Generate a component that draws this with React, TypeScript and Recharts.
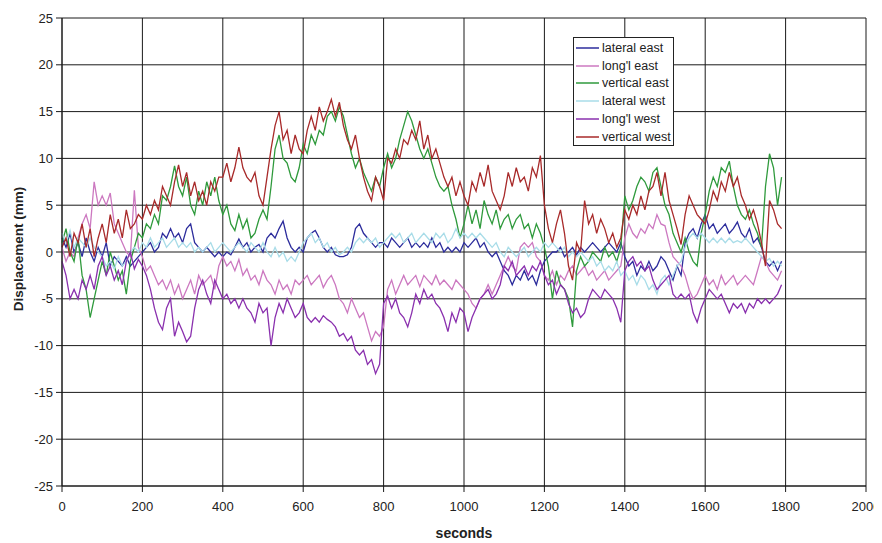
import { CartesianGrid, Legend, Line, LineChart, XAxis, YAxis } from 'recharts';

// sampled every 10 s, 0..1790
const lateralEast = [
  1.5, 0.5, 2, 0, 1, -0.5, 1.5, 0, -1, 0.5,
  -0.5, 1, -1.5, -0.5, -1, -1.5, -0.5, -1.5, -1, -0.5,
  0, 0.5, 1, 0, 0.5, 2, 1.5, 2.5, 1.5, 2,
  1, 2.5, 3, 1, 0.5, 0, 0.5, 0, -0.5, 0,
  -0.5, 0, -0.3, 0.5, 1.4, 0.5, 1, 0, 0.5, 0.8,
  0, 1.5, 2, 1.5, 2.5, 3.3, 1.5, 0.5, 0, 0.5,
  0, 1.5, 2, 2.3, 1.5, 0.5, 0, 0.5, -0.3, -0.5,
  -0.5, -0.3, 0.5, 2.5, 3, 2, 1.5, 1, 0.5, 1,
  1, 0.5, 1.5, 1, 0.5, 1, 1.5, 0.5, 1, 0.5,
  1, 0.5, 1.5, 0.5, 1, 0, 0.5, 0, 0.5, 0,
  1, 0.5, 1, 1.5, 0.5, 1, 0, -0.5, 0, -1,
  -2, -2.5, -3.5, -2.5, -3, -2, -3, -2.5, -3.5, -2,
  -1, -0.5, 0, 0, 0.5, -0.5, 0, 0.5, -0.3, 0.5,
  0, 0.5, 1, 0.5, 0, 0.5, 1, 0.5, 0, 1,
  -0.5, -1.5, -1, -2.5, -1.5, -2, -1, -2, -1.5, -0.5,
  -1, -2, -3, -1.5, -2.5, 1, 2, 2.5, 1.5, 3,
  4, 2.5, 3, 2, 2.5, 3, 2, 2.5, 3.2, 2,
  1.5, 2.5, 1, 1.5, 0.5, -1, -1.5, -1, -2, -1,
];

const longEast = [
  0.5, -1, 0, -0.5, 1.5, 3, 4, 2.5, 7.5, 5,
  6, 5, 6.3, 3, 2, 1, 0, -0.5, 6.6, 0.5,
  -0.5, -2, -1.5, -2.5, -3.5, -3, -4, -3, -4.5, -3.5,
  -5, -4, -3, -4.5, -2.5, -3.5, -3, -2.5, -4, -1.5,
  -0.5, -1.5, -1, -2, -0.8, -2.5, -1.8, -3, -2.5, -3.5,
  -2, -3, -3.5, -4.5, -3, -4, -3.5, -4.5, -3, -3.5,
  -3, -2.5, -3.5, -3, -2.5, -3.8, -3, -2.5, -3.5, -5,
  -5.5, -6.5, -5, -6, -7, -6.5, -8, -9.5, -8.5, -9,
  -8, -4, -3, -4.5, -3.5, -2.5, -3.5, -3, -2.5, -3.7,
  -2.5, -3, -3.5, -2.5, -3.5, -3, -3.5, -4, -3, -3.5,
  -4, -4.5, -5.5, -6, -5, -4.5, -3.5, -4.5, -3.5, -2.5,
  -1.5, -0.5, -1.5, -2, 0.5, 1, 0.5, 1, -0.5, -1,
  -2.5, -3, -2, -3.5, -2.5, -3, -2, -1.5, -2.5, -2,
  -1.5, -2.5, -2, -3, -2.5, -2, -3, -2.5, -2, -1.5,
  1.5, 3, 2, 1.5, 2.5, 2, 3, 2.5, 4, 3,
  2.8, 1, -0.5, -1, -1.5, -2.5, -4, -5, -4.5, -3.5,
  -2.5, -3.5, -3, -4, -2.5, -3.5, -3, -2.5, -3.5, -3,
  -2.5, -3, -3.5, -2, -0.5, -1, -2, -2.5, -3, -2,
];

const verticalEast = [
  1, 2.5, 0, -1, 1.5, -2.5, -4, -7, -5, -3,
  -1, -2.5, 0, -1.5, -3, -2, -4.5, -1, 0.5, 2,
  1.5, 3, 2.5, 4, 3, 6, 5.5, 7, 9.2, 7,
  6, 8, 5, 4, 6.5, 5, 7.5, 6, 8, 5.5,
  4, 5, 3, 2.3, 4, 2.5, 3.5, 1.5, 2, 3.5,
  4.5, 3.5, 7, 11, 12.5, 10, 9.5, 8, 7.5, 9,
  11.5, 10.5, 12.5, 11.5, 13, 12.5, 14.5, 15, 14, 15.5,
  14.5, 12.5, 10.5, 9, 10, 8.5, 7.5, 6.5, 8, 7,
  9, 10.5, 9, 10, 12, 13.5, 15, 14, 12.5, 11,
  10, 11, 9.5, 8, 7, 6.5, 7, 5, 3.5, 1.5,
  3, 5, 3, 4.5, 2.5, 5.5, 4, 3, 4.5, 2.5,
  3.5, 4, 2.5, 3.5, 4, 2.5, 3, 1.5, 3, 2,
  0.5, -1.5, -5, -2, -3.5, -4, -5, -8, -2, -0.5,
  -1.5, -1, 0, -0.5, -1, 0.5, -0.5, 0, -1, 0.5,
  6, 4.5, 5.5, 7, 8, 7.5, 6.5, 8.5, 9, 7,
  5, 4, 2, 1, 0, 1.5, 0, -1, -1.5, 2,
  4, 6.5, 8, 7, 9, 8.5, 9.7, 7, 5, 4,
  3.5, 4.5, 3, 2, 0.5, 7, 10.5, 9, 5, 8,
];

const lateralWest = [
  2, 1, 2.3, 0.5, 1.5, 1, 0.5, 1.5, 0.5, 0,
  -0.5, -1.5, -1, -1.8, -0.5, -1.5, -1, 0, 0.5, 0,
  1, 0.5, 1.5, 0.5, 1, 1.5, 0.5, 1, 1.5, 0.5,
  1, 0.5, 1, 0, 0.5, 0, 0.5, 1, 0, 0.5,
  1, 0.5, 0, 0.5, 1, 0.5, 0, 1, 0.5, 0,
  1, 0, -0.5, 0.5, -0.5, 0, -1, -0.5, -1, 0,
  1, 1.5, 2, 1, 1.5, 0.5, 1, 0, 0.5, -0.3,
  0, 0.5, 0, 1, 1.5, 1, 1.5, 1, 1.5, 0.5,
  1, 1.5, 2, 1.5, 2, 1, 1.5, 2, 1, 1.5,
  2, 1.5, 1, 2, 1.5, 2, 1, 1.5, 2.5, 1.5,
  2, 1.5, 2, 1.5, 2, 1.5, 1, 0.5, 1, 0,
  -0.5, 0.5, 0, -0.5, 0, 0.5, -0.5, 0, 0.5, 0,
  1, 0.5, 1, 0.5, 0, 0.5, -0.5, 0, -0.5, 0,
  -0.5, -1, -0.5, -1.5, -1, -2, -1.5, -2, -1, -2.5,
  -2, -3, -2.5, -3.5, -2.5, -3, -4, -3.5, -4.5, -3,
  -2.5, -3.5, -2.5, -1.5, -1, 0.5, 1.5, 2, 1.5, 2,
  1.5, 1, 1.5, 1, 1.5, 1, 1.5, 1, 1.2, 1,
  1.5, 1, 0.5, 0, -0.5, -1, -0.7, -1.5, -1, -1.5,
];

const longWest = [
  -1, -2.5, -5, -4, -5, -3, -4, -2.5, -4, -1.5,
  -0.5, -2.5, -1.5, -3, -2, -3.5, -1, 0, -1.8, -0.8,
  -1.5, -2.5, -4, -6, -7.5, -8.3, -6, -5, -9, -7.5,
  -8.5, -9.6, -9, -6, -4, -3, -4.5, -5.5, -3, -4,
  -5, -4.5, -5.5, -5, -6, -5, -6, -6.5, -7.5, -5.5,
  -6.5, -6, -10, -7, -5.5, -6.5, -5, -6, -7, -6.5,
  -5.5, -7, -7.5, -7, -7.5, -6.8, -7.2, -7.5, -8, -9,
  -8.7, -9.5, -9, -10.5, -11, -10.5, -12, -11.5, -13, -12,
  -5.5, -4.7, -6, -5, -6.5, -7, -8, -6.5, -4.5, -5.5,
  -4, -5, -4.5, -5.5, -6, -7, -8.5, -6.5, -7.5, -6,
  -6.5, -8.5, -7, -6, -5, -4.5, -4, -5, -4.5, -3.5,
  -1.5, -2, -1, -2.5, -2, -1.5, -2.5, -1.5, -2, -1,
  -2.5, -3.5, -3, -4.5, -3.5, -4, -5.5, -6.5, -6, -7,
  -6.5, -5, -4, -4.5, -5, -4, -4.5, -5, -6, -7.5,
  -2, -1, -0.5, -1.5, -1, -2, -1.5, -3, -4, -3.5,
  -3, -2.5, -4.5, -5, -4.5, -5, -4.5, -6.5, -7.5, -6,
  -5, -4, -4.5, -5, -4.5, -5.5, -6.5, -5.5, -6, -5.5,
  -6.5, -5.5, -6, -5, -5.5, -5, -5.5, -5, -4.5, -3.5,
];

const verticalWest = [
  0.5, 1.5, -0.5, 2, 1, 3, 0.5, 2.5, -0.5, 1.5,
  3, 1, 4, 2, 3.5, 1.5, 4.5, 2.5, 3, 4,
  3.5, 5, 4, 5.5, 4.5, 7, 6, 5, 7.5, 9.3,
  7, 8.5, 6, 7.5, 5.5, 6.5, 5, 7.5, 6.5, 8,
  8, 9.5, 7.5, 9, 11.2, 9, 8, 7.5, 8.5, 6,
  5, 8, 11, 13.5, 15, 12, 13, 10.5, 12.5, 11,
  10.5, 13, 14.5, 13, 15.5, 14, 15, 16.3, 14.5, 16,
  13.5, 12, 11, 12.5, 10, 8, 6.5, 5.5, 8, 7,
  5.5, 10, 9.5, 11, 10, 12, 11.5, 13, 12, 14,
  11, 12.5, 10, 11, 9.5, 8, 7, 8, 6, 7.5,
  6, 5, 7.5, 6.5, 8.5, 7, 9.3, 6.5, 5.5, 4.5,
  6, 8.5, 7, 9, 7.5, 8, 6.5, 9, 8, 10.3,
  5, 2.5, 1, 3, 4.5, 2, -1.5, -3, 1, 0,
  5.5, 3, 4, 2, 3.5, 2.5, 1, 2, 0.5, 1.5,
  4.5, 3.5, 5, 4, 6, 4.5, 6.5, 7, 8.5, 6,
  8.5, 5.5, 4, 2.5, 0.8, 4, 6, 5, 4, 3.5,
  3, 4.5, 6.5, 5.5, 7.5, 6.5, 8.5, 7, 8, 6,
  5, 3.5, 4.5, 3, 1, -1.5, 5.5, 4.5, 3, 2.5,
];

const xTicks = [0, 200, 400, 600, 800, 1000, 1200, 1400, 1600, 1800, 2000];
const yTicks = [-25, -20, -15, -10, -5, 0, 5, 10, 15, 20, 25];

const series = [
  { key: 'latE', name: 'lateral east', values: lateralEast, color: '#2c2c9c' },
  { key: 'lonE', name: "long'l east", values: longEast, color: '#cc78c0' },
  { key: 'verE', name: 'vertical east', values: verticalEast, color: '#2f9a3c' },
  { key: 'latW', name: 'lateral west', values: lateralWest, color: '#a8dce8' },
  { key: 'lonW', name: "long'l west", values: longWest, color: '#8a30ae' },
  { key: 'verW', name: 'vertical west', values: verticalWest, color: '#a82a2a' },
];

const data = lateralEast.map((_, i) => {
  const row: Record<string, number> = { t: i * 10 };
  series.forEach((s) => {
    row[s.key] = s.values[i];
  });
  return row;
});

const font = 'Liberation Sans, Arial, sans-serif';

function LegendBox() {
  return (
    <div
      style={{
        border: '1px solid #222',
        background: '#fff',
        padding: '1px 2px 0 2px',
        height: 106,
        boxSizing: 'content-box',
        fontFamily: font,
        fontSize: 12.5,
        color: '#222',
      }}
    >
      {series.map((s) => (
        <div key={s.key} style={{ display: 'flex', alignItems: 'center', height: 17.8, whiteSpace: 'nowrap' }}>
          <svg width={23} height={4} style={{ marginRight: 3 }}>
            <line x1={0} y1={2} x2={23} y2={2} stroke={s.color} strokeWidth={1.5} />
          </svg>
          <span>{s.name}</span>
        </div>
      ))}
    </div>
  );
}

export default function App() {
  return (
    <LineChart
      width={874}
      height={535}
      data={data}
      margin={{ top: 10, right: 16, left: 0, bottom: 0 }}
      style={{ fontFamily: font }}
    >
      <CartesianGrid stroke="#1a1a1a" strokeWidth={1} />
      <XAxis
        dataKey="t"
        type="number"
        domain={[0, 2000]}
        ticks={xTicks}
        interval={0}
        height={57}
        stroke="#1a1a1a"
        tickSize={6}
        tickMargin={10}
        tick={{ fill: '#222', fontSize: 13 }}
        label={{ value: 'seconds', position: 'insideBottom', offset: 5, fill: '#222', fontSize: 14, fontWeight: 'bold' }}
      />
      <YAxis
        type="number"
        domain={[-25, 25]}
        ticks={yTicks}
        interval={0}
        width={54}
        stroke="#1a1a1a"
        tickSize={6}
        tickMargin={3}
        tick={{ fill: '#222', fontSize: 13 }}
        label={{
          content: () => (
            <text
              x={10}
              y={241}
              transform="rotate(-90 10 241)"
              textAnchor="middle"
              dominantBaseline="central"
              fill="#222"
              fontSize={13.5}
              fontWeight="bold"
            >
              Displacement (mm)
            </text>
          ),
        }}
      />
      <Legend
        layout="vertical"
        align="center"
        verticalAlign="middle"
        content={() => <LegendBox />}
        wrapperStyle={{ left: 565, top: 29, width: 101, height: 'auto' }}
      />
      {series.map((s) => (
        <Line
          key={s.key}
          dataKey={s.key}
          name={s.name}
          stroke={s.color}
          strokeWidth={1.3}
          dot={false}
          isAnimationActive={false}
        />
      ))}
    </LineChart>
  );
}
